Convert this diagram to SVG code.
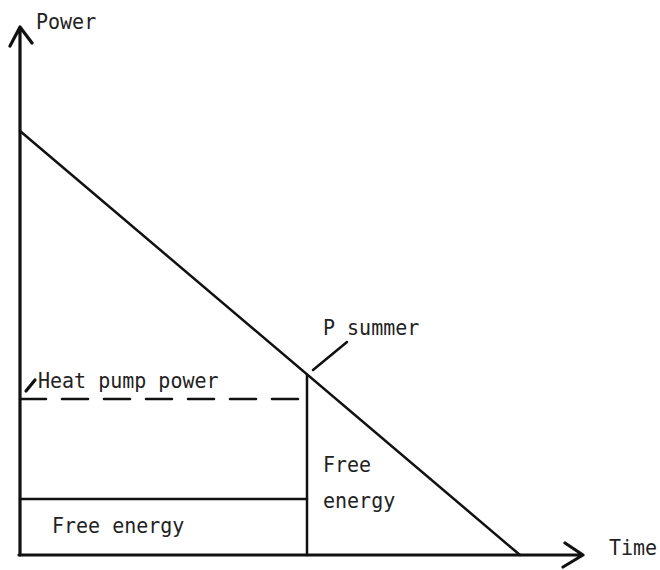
<svg xmlns="http://www.w3.org/2000/svg" width="660" height="570" viewBox="0 0 660 570">
<style>
.t{font-family:"DejaVu Sans Mono","Liberation Mono",monospace;font-size:20px;fill:#222}
.ax{stroke:#111;stroke-width:3.2;fill:none;stroke-linecap:round;stroke-linejoin:round}
.ln{stroke:#111;stroke-width:2.5;fill:none;stroke-linecap:round}
</style>
<rect width="660" height="570" fill="#fff"/>
<g id="connectors">
<path class="ax" d="M20,555 V27 M10,46 L20,27 L32,43"/>
<path class="ax" d="M19,555 H583 M565,543 L583,555 L563,567"/>
<path class="ln" d="M20,131 L520,555"/>
<path class="ln" d="M307,375 V555"/>
<path class="ln" d="M20,499 H307"/>
<path class="ln" stroke-dasharray="26,16" d="M20,399 H307" stroke-width="2.8"/>
<path class="ax" d="M26,391 L35,380"/>
<path class="ln" d="M313,370 L347,342" stroke-width="2.8"/>
</g>
<g id="labels">
<text class="t" transform="translate(36,29) scale(1,1.1)">Power</text>
<text class="t" transform="translate(38,388) scale(1,1.1)">Heat pump power</text>
<text class="t" transform="translate(323,335) scale(1,1.1)">P summer</text>
<text class="t" transform="translate(323,472) scale(1,1.1)">Free</text>
<text class="t" transform="translate(323,508) scale(1,1.1)">energy</text>
<text class="t" transform="translate(52,533) scale(1,1.1)">Free energy</text>
<text class="t" transform="translate(609,555) scale(1,1.1)">Time</text>
</g>
</svg>
